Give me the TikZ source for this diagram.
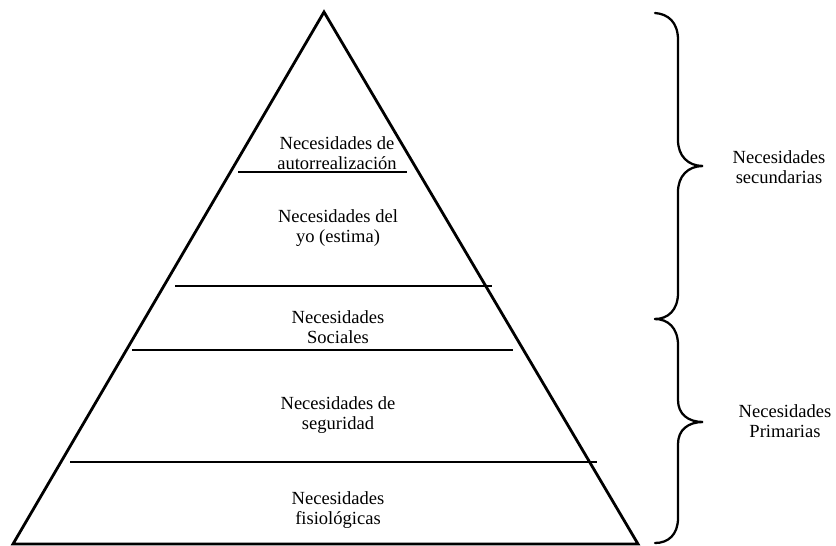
\documentclass[tikz,border=0pt]{standalone}
\usepackage{fontspec}
\setmainfont{Liberation Serif}
\begin{document}
\begin{tikzpicture}[x=0.75pt,y=-0.75pt,
  lbl/.style={align=center,inner sep=0pt,font=\fontsize{13.9}{15}\selectfont},
  edge/.style={line width=2.1pt,line join=miter},
  layer/.style={line width=1.9pt},
  brace/.style={line width=1.7pt,line cap=round}]
\useasboundingbox (0,0) rectangle (836,546);
% pyramid
\coordinate (apex) at (324,12);
\coordinate (bl) at (13,544);
\coordinate (br) at (638,544);
\draw[edge] (bl) -- (apex) -- (br) -- cycle;
% layer lines
\draw[layer] (238,172) -- (407,172);
\draw[layer] (175,286) -- (492,286);
\draw[layer] (132,350) -- (513,350);
\draw[layer] (70,462) -- (597,462);
% labels
\node[lbl] (t1) at (337,153) {Necesidades de\\autorrealización};
\node[lbl] (t2) at (338,228) {Necesidades del\\yo (estima)};
\node[lbl] (t3) at (338,327) {Necesidades\\Sociales};
\node[lbl] (t4) at (338,415) {Necesidades de\\seguridad};
\node[lbl] (t5) at (338,510) {Necesidades\\fisiológicas};
\node[lbl] (t6) at (779,167) {Necesidades\\secundarias};
\node[lbl] (t7) at (785,421) {Necesidades\\Primarias};
% braces
\draw[brace] (655,13) .. controls (668,14) and (678,22) .. (678,40)
  -- (678,140) .. controls (678,156) and (688,166) .. (703,166)
  .. controls (688,166) and (678,176) .. (678,192)
  -- (678,293) .. controls (678,310) and (668,319) .. (655,319);
\draw[brace] (655,319) .. controls (668,319) and (678,328) .. (678,345)
  -- (678,400) .. controls (678,414) and (688,422) .. (703,422)
  .. controls (688,422) and (678,430) .. (678,444)
  -- (678,518) .. controls (678,535) and (668,543) .. (655,543);
\end{tikzpicture}
\end{document}
